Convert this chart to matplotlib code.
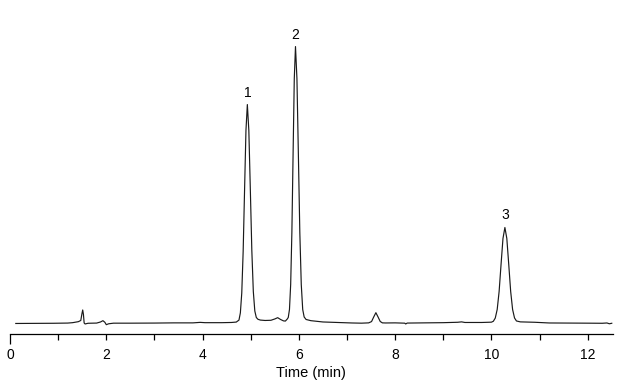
import matplotlib
matplotlib.use('Agg')
import matplotlib.pyplot as plt

plt.rcParams['font.family'] = ['Liberation Sans', 'DejaVu Sans']

# chromatogram trace (time in min, signal in arbitrary units)
time = [0.12, 0.5, 0.9, 1.2, 1.3, 1.42, 1.47, 1.495, 1.51, 1.525, 1.54, 1.56, 1.62,
        1.8, 1.88, 1.93, 1.97, 2.0, 2.05, 2.15, 2.5, 3.0, 3.4, 3.8, 3.95, 4.05,
        4.4, 4.6, 4.7,
        4.756, 4.785, 4.814, 4.843, 4.872, 4.901, 4.93, 4.961, 4.992, 5.023, 5.054,
        5.085, 5.116, 5.15, 5.2, 5.3, 5.42, 5.5, 5.56, 5.62, 5.68, 5.72,
        5.76, 5.78, 5.805, 5.83, 5.855, 5.88, 5.905, 5.93, 5.96, 5.99, 6.02, 6.05,
        6.08, 6.11, 6.15, 6.25, 6.5, 6.8, 7.1, 7.3, 7.45,
        7.51, 7.555, 7.6, 7.645, 7.69, 7.735, 7.8, 8.0, 8.2, 8.22, 8.25, 8.6, 9.0,
        9.3, 9.38, 9.45, 9.8, 10.0,
        10.04, 10.08, 10.12, 10.16, 10.20, 10.24, 10.28, 10.32, 10.36, 10.40, 10.44,
        10.48, 10.52, 10.6, 10.9, 11.2, 11.6, 12.0, 12.3, 12.4, 12.45, 12.5]
signal = [0.0, 0.1, 0.2, 0.4, 0.8, 1.8, 3.0, 10.0, 13.5, 9.0, 0.5, -0.5, 0.2,
          0.4, 1.5, 2.8, 1.2, -1.2, -0.3, 0.3, 0.3, 0.4, 0.6, 0.6, 1.1, 0.8,
          0.8, 1.0, 1.4,
          3.4, 10.6, 30.5, 72, 133, 193, 219, 193, 134, 73, 32,
          12.5, 6.0, 4.2, 3.4, 3.0, 3.2, 4.5, 5.8, 4.0, 2.6, 2.4,
          4.5, 6.0, 14, 39, 91, 169, 245, 277, 245, 169, 91, 39,
          14, 6.5, 4.0, 2.8, 1.5, 1.0, 0.5, 0.3, 0.6,
          1.9, 6.5, 10.8, 6.5, 2.0, 0.6, 0.5, 0.6, 0.3, -0.5, 0.4, 0.6, 0.8,
          1.2, 1.6, 1.0, 1.0, 1.3,
          2.2, 5.4, 14, 32, 59, 85, 96, 85, 59, 32, 14,
          5.5, 2.5, 1.6, 1.2, 0.5, 0.4, 0.3, 0.2, 0.5, -0.3, 0.2]

peak_labels = ['1', '2', '3']
peak_times = [4.94, 5.92, 10.28]
peak_label_y = [231, 289, 109]

fig = plt.figure(figsize=(6.22, 3.88), dpi=100)
ax = fig.add_axes([0.0161, 0.139, 0.969, 0.809])

ax.plot(time, signal, color='#1a1a1a', lw=0.85)

for lab, t, y in zip(peak_labels, peak_times, peak_label_y):
    ax.text(t, y, lab, ha='center', va='center', fontsize=10)

ax.set_xlim(0, 12.52)
ax.set_ylim(-10.6, 303.4)

for s in ['left', 'right', 'top']:
    ax.spines[s].set_visible(False)
ax.spines['bottom'].set_linewidth(0.9)
ax.set_yticks([])

ax.set_xticks([0, 2, 4, 6, 8, 10, 12])
ax.set_xticks([1, 3, 5, 7, 9, 11], minor=True)
ax.tick_params(axis='x', which='both', direction='out', length=4, width=0.9,
               pad=6, labelsize=10)
ax.xaxis.get_major_ticks()[0].tick1line.set_markersize(7.5)

ax.set_xlabel('Time (min)', fontsize=10.5, labelpad=3)

fig.savefig('out.png', dpi=100)
